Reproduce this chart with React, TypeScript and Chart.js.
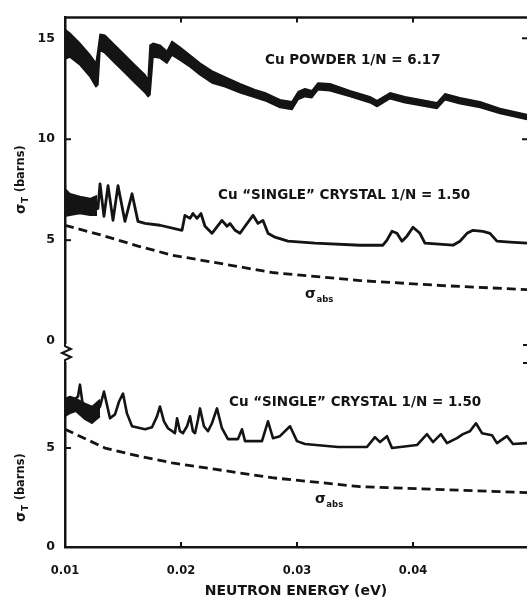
import React, { useEffect, useRef } from 'react';
import { Chart, registerables } from 'chart.js';

Chart.register(...registerables);

const INK = '#141414';
const FAMILY = "'DejaVu Sans', sans-serif";

// axis ticks
const xTicks = [0.01, 0.02, 0.03, 0.04];
const upperYTicks = [0, 5, 10, 15];
const lowerYTicks = [0, 5];
const upperRightTicks = [10, 15];

// ---------- upper panel: Cu powder (noisy band: high / low envelope) ----------
const powderE = [0.01, 0.01043, 0.01129, 0.01216, 0.01267, 0.01284, 0.01302, 0.01345, 0.01431, 0.01517, 0.01603, 0.0169, 0.01716, 0.01733, 0.01759, 0.01819, 0.01879, 0.01922, 0.01991, 0.02078, 0.02164, 0.02267, 0.02379, 0.02509, 0.02638, 0.02724, 0.02853, 0.02957, 0.03009, 0.03069, 0.03129, 0.03181, 0.03284, 0.03457, 0.03629, 0.0369, 0.03802, 0.03931, 0.04207, 0.04276, 0.04405, 0.04578, 0.0475, 0.04983];
const powderHigh = [15.44, 15.25, 14.75, 14.17, 13.77, 14.41, 15.2, 15.15, 14.66, 14.17, 13.68, 13.19, 12.94, 14.66, 14.75, 14.66, 14.36, 14.85, 14.56, 14.17, 13.77, 13.38, 13.09, 12.75, 12.45, 12.3, 11.96, 11.86, 12.35, 12.5, 12.4, 12.79, 12.75, 12.4, 12.11, 11.91, 12.3, 12.11, 11.81, 12.25, 12.06, 11.86, 11.52, 11.23];
const powderLow = [13.97, 14.07, 13.68, 13.09, 12.6, 12.7, 14.41, 14.26, 13.77, 13.28, 12.79, 12.3, 12.11, 12.21, 14.07, 14.02, 13.77, 14.17, 13.92, 13.58, 13.19, 12.79, 12.6, 12.3, 12.06, 11.91, 11.57, 11.47, 11.96, 12.11, 12.06, 12.45, 12.4, 12.11, 11.81, 11.62, 12.01, 11.81, 11.52, 11.96, 11.76, 11.57, 11.27, 10.98];

// ---------- upper panel: Cu "single" crystal ----------
const crystalUpperE = [0.01, 0.01129, 0.01259, 0.01284, 0.01302, 0.01336, 0.01371, 0.01414, 0.01457, 0.01517, 0.01578, 0.01629, 0.0169, 0.01819, 0.02009, 0.02034, 0.02078, 0.02103, 0.02138, 0.02172, 0.02207, 0.02267, 0.02353, 0.02397, 0.02422, 0.02466, 0.02509, 0.02552, 0.02621, 0.02664, 0.02707, 0.0275, 0.0281, 0.02922, 0.03155, 0.03543, 0.03741, 0.03776, 0.03819, 0.03862, 0.03905, 0.03948, 0.04, 0.0406, 0.04103, 0.04345, 0.04405, 0.04466, 0.04517, 0.04603, 0.04664, 0.04724, 0.04836, 0.04983];
const crystalUpperV = [6.81, 6.72, 6.72, 6.57, 7.79, 6.18, 7.7, 5.98, 7.7, 5.93, 7.3, 5.93, 5.83, 5.74, 5.49, 6.23, 6.08, 6.32, 6.08, 6.32, 5.69, 5.34, 5.98, 5.69, 5.83, 5.49, 5.34, 5.69, 6.23, 5.83, 5.98, 5.34, 5.15, 4.95, 4.85, 4.75, 4.75, 5.0, 5.44, 5.34, 4.95, 5.2, 5.64, 5.34, 4.85, 4.75, 4.95, 5.34, 5.49, 5.44, 5.34, 4.95, 4.9, 4.85];
const crystalUpperBandE = [0.01, 0.01043, 0.01129, 0.01216, 0.01276];
const crystalUpperBandHigh = [7.55, 7.3, 7.16, 7.06, 7.21];
const crystalUpperBandLow = [6.18, 6.23, 6.32, 6.23, 6.23];

// ---------- upper panel: sigma_abs (dashed) ----------
const absUpperE = [0.01, 0.01345, 0.01629, 0.01922, 0.02267, 0.02784, 0.03543, 0.04259, 0.04983];
const absUpperV = [5.74, 5.2, 4.71, 4.26, 3.92, 3.4, 3.0, 2.75, 2.55];

// ---------- lower panel: Cu "single" crystal ----------
const crystalLowerE = [0.01, 0.0106, 0.01112, 0.01129, 0.01155, 0.01198, 0.01259, 0.01302, 0.01336, 0.01388, 0.01431, 0.01466, 0.015, 0.01534, 0.01578, 0.0169, 0.0175, 0.01793, 0.01819, 0.01853, 0.01888, 0.01948, 0.01966, 0.01991, 0.02017, 0.02052, 0.02078, 0.02103, 0.02121, 0.02147, 0.02164, 0.02198, 0.02233, 0.02267, 0.0231, 0.02353, 0.02405, 0.02491, 0.02526, 0.02552, 0.02698, 0.0275, 0.02793, 0.02853, 0.0294, 0.03, 0.03069, 0.03353, 0.03603, 0.03672, 0.03716, 0.03776, 0.03819, 0.04034, 0.04121, 0.04172, 0.04241, 0.04293, 0.04379, 0.04431, 0.04491, 0.04543, 0.04595, 0.04681, 0.04724, 0.0481, 0.04862, 0.04983];
const crystalLowerV = [7.1, 7.35, 7.6, 8.2, 7.1, 6.6, 6.75, 7.1, 7.85, 6.5, 6.7, 7.35, 7.75, 6.75, 6.1, 5.95, 6.05, 6.6, 7.1, 6.35, 6.0, 5.75, 6.5, 5.85, 5.75, 6.1, 6.6, 5.85, 5.75, 6.45, 7.0, 6.1, 5.85, 6.25, 7.0, 6.0, 5.45, 5.45, 5.95, 5.35, 5.35, 6.35, 5.5, 5.6, 6.1, 5.35, 5.2, 5.05, 5.05, 5.55, 5.3, 5.6, 5.0, 5.15, 5.7, 5.3, 5.7, 5.25, 5.5, 5.7, 5.85, 6.25, 5.75, 5.65, 5.25, 5.6, 5.2, 5.25];
const crystalLowerBandE = [0.01, 0.01043, 0.01095, 0.01172, 0.01233, 0.01302];
const crystalLowerBandHigh = [7.5, 7.6, 7.5, 7.25, 7.1, 7.45];
const crystalLowerBandLow = [6.6, 6.75, 6.85, 6.45, 6.25, 6.6];

// ---------- lower panel: sigma_abs (dashed) ----------
const absLowerE = [0.01, 0.01345, 0.01629, 0.01922, 0.02267, 0.02784, 0.03543, 0.04259, 0.04983];
const absLowerV = [5.95, 5.0, 4.6, 4.25, 3.95, 3.5, 3.05, 2.9, 2.75];

// text labels anchored in data units
const curveLabels = [
  { axis: 'yU', x: 0.02724, y: 13.92, text: 'Cu POWDER 1/N = 6.17' },
  { axis: 'yU', x: 0.02319, y: 7.21, text: 'Cu \u201CSINGLE\u201D CRYSTAL 1/N = 1.50' },
  { axis: 'yL', x: 0.02414, y: 7.3, text: 'Cu \u201CSINGLE\u201D CRYSTAL 1/N = 1.50' },
];
const sigmaLabels = [
  { axis: 'yU', x: 0.03069, y: 2.3, sub: 'abs' },
  { axis: 'yL', x: 0.03155, y: 2.4, sub: 'abs' },
];
const axisTitles = [
  { axis: 'yU', y: 8.0, sub: 'T', rest: ' (barns)' },
  { axis: 'yL', y: 3.0, sub: 'T', rest: ' (barns)' },
];

const zip = (xs: number[], ys: number[]) => xs.map((x, i) => ({ x, y: ys[i] }));

const font = (size: number) => `bold ${size}px ${FAMILY}`;

function drawSigma(ctx: CanvasRenderingContext2D, x: number, y: number, sub: string, rest: string, size: number, subSize: number) {
  ctx.textBaseline = 'middle';
  ctx.textAlign = 'left';
  ctx.font = font(size);
  const w1 = ctx.measureText('\u03C3').width;
  ctx.fillText('\u03C3', x, y);
  ctx.font = font(subSize);
  const w2 = ctx.measureText(sub).width;
  ctx.fillText(sub, x + w1 + 0.5, y + size * 0.38);
  let w3 = 0;
  if (rest) {
    ctx.font = font(size * 0.85);
    w3 = ctx.measureText(rest).width;
    ctx.fillText(rest, x + w1 + w2 + 1, y);
  }
  return w1 + w2 + w3 + 1;
}

function measureSigma(ctx: CanvasRenderingContext2D, sub: string, rest: string, size: number, subSize: number) {
  ctx.font = font(size);
  const w1 = ctx.measureText('\u03C3').width;
  ctx.font = font(subSize);
  const w2 = ctx.measureText(sub).width;
  ctx.font = font(size * 0.85);
  const w3 = rest ? ctx.measureText(rest).width : 0;
  return w1 + w2 + w3 + 1;
}

const decor = {
  id: 'decor',
  afterDraw(chart: any) {
    const { ctx, chartArea: ca, scales } = chart;
    const xs = scales.x;
    const yU = scales.yU;
    const yL = scales.yL;
    const line = (x1: number, y1: number, x2: number, y2: number) => {
      ctx.beginPath();
      ctx.moveTo(x1, y1);
      ctx.lineTo(x2, y2);
      ctx.stroke();
    };
    ctx.save();
    ctx.strokeStyle = INK;
    ctx.fillStyle = INK;
    ctx.lineCap = 'butt';

    // top frame line
    ctx.lineWidth = 2.5;
    line(ca.left - 1, ca.top, ca.right, ca.top);

    // inward tick marks
    ctx.lineWidth = 2;
    xTicks.forEach((v) => {
      if (v <= xs.min) return;
      const px = xs.getPixelForValue(v);
      line(px, ca.bottom, px, ca.bottom - 5);
      line(px, ca.top, px, ca.top + 5);
    });
    upperYTicks.forEach((v) => {
      if (v <= 0) return;
      const py = yU.getPixelForValue(v);
      line(ca.left, py, ca.left + 6, py);
    });
    upperRightTicks.forEach((v) => {
      const py = yU.getPixelForValue(v);
      line(ca.right, py, ca.right - 5, py);
    });
    lowerYTicks.forEach((v) => {
      if (v <= 0) return;
      const py = yL.getPixelForValue(v);
      line(ca.left, py, ca.left + 6, py);
    });

    // axis break between the two panels
    const b = yU.bottom;
    ctx.fillStyle = '#ffffff';
    ctx.fillRect(ca.left - 3, b - 8, 13, 18);
    ctx.fillStyle = INK;
    ctx.lineWidth = 2;
    ctx.lineJoin = 'miter';
    ctx.beginPath();
    ctx.moveTo(ca.left, b - 9);
    ctx.lineTo(ca.left, b - 6);
    ctx.lineTo(ca.left + 6, b - 3);
    ctx.lineTo(ca.left - 3, b + 1);
    ctx.lineTo(ca.left + 6, b + 5);
    ctx.lineTo(ca.left, b + 8);
    ctx.lineTo(ca.left, b + 11);
    ctx.stroke();
    line(ca.right - 4, b - 7, ca.right, b - 7);
    line(ca.right - 4, b + 11, ca.right, b + 11);

    // curve labels
    ctx.textAlign = 'left';
    ctx.textBaseline = 'middle';
    curveLabels.forEach((l) => {
      const sc = scales[l.axis];
      ctx.font = font(13.5);
      ctx.fillText(l.text, xs.getPixelForValue(l.x), sc.getPixelForValue(l.y));
    });
    sigmaLabels.forEach((l) => {
      const sc = scales[l.axis];
      drawSigma(ctx, xs.getPixelForValue(l.x), sc.getPixelForValue(l.y), l.sub, '', 14, 8.5);
    });

    // rotated y-axis titles
    axisTitles.forEach((t) => {
      const sc = scales[t.axis];
      const cy = sc.getPixelForValue(t.y);
      const cx = 21;
      const w = measureSigma(ctx, t.sub, t.rest, 13.5, 9);
      ctx.save();
      ctx.translate(cx, cy);
      ctx.rotate(-Math.PI / 2);
      drawSigma(ctx, -w / 2, 0, t.sub, t.rest, 13.5, 9);
      ctx.restore();
    });
    ctx.restore();
  },
};

export default function App() {
  const ref = useRef<HTMLCanvasElement | null>(null);

  useEffect(() => {
    if (!ref.current) return;
    const lineBase = {
      type: 'line' as const,
      pointRadius: 0,
      borderColor: INK,
      tension: 0,
      borderJoinStyle: 'round' as const,
      borderCapStyle: 'butt' as const,
      fill: false,
    };
    const chart = new Chart(ref.current, {
      type: 'line',
      data: {
        datasets: [
          { ...lineBase, yAxisID: 'yU', data: zip(powderE, powderHigh), borderWidth: 1.5 },
          { ...lineBase, yAxisID: 'yU', data: zip(powderE, powderLow), borderWidth: 1.5, fill: '-1', backgroundColor: INK },
          { ...lineBase, yAxisID: 'yU', data: zip(crystalUpperBandE, crystalUpperBandHigh), borderWidth: 1.5 },
          { ...lineBase, yAxisID: 'yU', data: zip(crystalUpperBandE, crystalUpperBandLow), borderWidth: 1.5, fill: '-1', backgroundColor: INK },
          { ...lineBase, yAxisID: 'yU', data: zip(crystalUpperE, crystalUpperV), borderWidth: 2.8 },
          { ...lineBase, yAxisID: 'yU', data: zip(absUpperE, absUpperV), borderWidth: 2.8, borderDash: [9, 5] },
          { ...lineBase, yAxisID: 'yL', data: zip(crystalLowerBandE, crystalLowerBandHigh), borderWidth: 1.5 },
          { ...lineBase, yAxisID: 'yL', data: zip(crystalLowerBandE, crystalLowerBandLow), borderWidth: 1.5, fill: '-1', backgroundColor: INK },
          { ...lineBase, yAxisID: 'yL', data: zip(crystalLowerE, crystalLowerV), borderWidth: 2.6 },
          { ...lineBase, yAxisID: 'yL', data: zip(absLowerE, absLowerV), borderWidth: 2.8, borderDash: [9, 5] },
        ],
      },
      options: {
        animation: false,
        responsive: false,
        events: [],
        layout: { padding: { top: 12, right: 0, left: 0, bottom: 0 } },
        plugins: { legend: { display: false }, tooltip: { enabled: false } },
        scales: {
          x: {
            type: 'linear',
            min: 0.01,
            max: 0.04983,
            afterFit: (s: any) => { s.height = 54; },
            afterBuildTicks: (s: any) => { s.ticks = xTicks.map((v) => ({ value: v })); },
            grid: { display: false, drawTicks: false },
            border: { display: true, color: INK, width: 2.5 },
            ticks: {
              autoSkip: false,
              maxRotation: 0,
              padding: 17,
              color: INK,
              font: { family: FAMILY, weight: 'bold', size: 11.5 },
              callback: (v: any) => Number(v).toFixed(2),
            },
            title: {
              display: true,
              text: 'NEUTRON ENERGY (eV)',
              color: INK,
              font: { family: FAMILY, weight: 'bold', size: 14 },
              padding: { top: 0, bottom: 1 },
            },
          },
          yU: {
            type: 'linear',
            position: 'left',
            stack: 'sigma',
            stackWeight: 338,
            weight: 2,
            min: -0.54,
            max: 16.03,
            afterFit: (s: any) => { s.width = 65; },
            afterBuildTicks: (s: any) => { s.ticks = upperYTicks.map((v) => ({ value: v })); },
            grid: { display: false, drawTicks: false },
            border: { display: true, color: INK, width: 2.5 },
            ticks: {
              autoSkip: false,
              padding: 10,
              color: INK,
              font: { family: FAMILY, weight: 'bold', size: 12.5 },
              callback: (v: any) => String(v),
            },
          },
          yL: {
            type: 'linear',
            position: 'left',
            stack: 'sigma',
            stackWeight: 197,
            weight: 1,
            min: 0,
            max: 9.85,
            afterFit: (s: any) => { s.width = 65; },
            afterBuildTicks: (s: any) => { s.ticks = lowerYTicks.map((v) => ({ value: v })); },
            grid: { display: false, drawTicks: false },
            border: { display: true, color: INK, width: 2.5 },
            ticks: {
              autoSkip: false,
              padding: 10,
              color: INK,
              font: { family: FAMILY, weight: 'bold', size: 12.5 },
              callback: (v: any) => String(v),
            },
          },
        },
      },
      plugins: [decor],
    } as any);
    return () => chart.destroy();
  }, []);

  return (
    <div style={{ position: 'absolute', left: 0, top: 0, width: 527, height: 601, background: '#fff' }}>
      <canvas ref={ref} width={527} height={601} style={{ display: 'block' }} />
    </div>
  );
}
